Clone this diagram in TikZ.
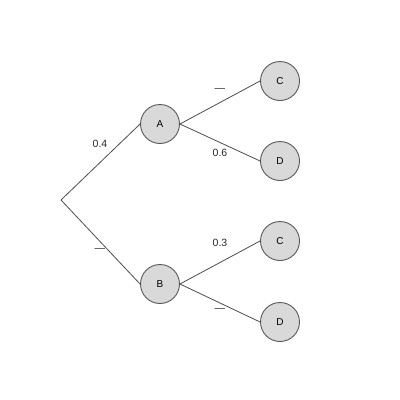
\documentclass[tikz,border=0pt]{standalone}
\usepackage{fontspec}
\setmainfont{Liberation Sans}
\usepackage{tikz}
\usetikzlibrary{positioning,calc}

\begin{document}
\begin{tikzpicture}[x=1pt,y=-1pt,
    event/.style={circle, draw=black!65, fill=black!15, line width=0.9pt, minimum size=39pt, inner sep=0pt, font=\fontsize{10}{12}\selectfont},
    branch/.style={draw=black!70, line width=0.8pt},
    prob/.style={font=\fontsize{10.5}{12}\selectfont, text=black!85, inner sep=0pt}]

\useasboundingbox (0,0) rectangle (400,400);
\coordinate (root) at (61,200);
\node[event] (a) at (160,124) {A};
\node[event] (b) at (160,284) {B};
\node[event] (ac) at (280,81) {C};
\node[event] (ad) at (280,161) {D};
\node[event] (bc) at (280,241) {C};
\node[event] (bd) at (280,322) {D};

\draw[branch] (root) -- (a.west);
\draw[branch] (root) -- (b.west);
\draw[branch] (a.east) -- (ac.west);
\draw[branch] (a.east) -- (ad.west);
\draw[branch] (b.east) -- (bc.west);
\draw[branch] (b.east) -- (bd.west);

\node[prob] at (100,144) {0.4};
\node[prob] at (100,250) {—};
\node[prob] at (220,90) {—};
\node[prob] at (220,153) {0.6};
\node[prob] at (220,243) {0.3};
\node[prob] at (220,310) {—};
\end{tikzpicture}
\end{document}
